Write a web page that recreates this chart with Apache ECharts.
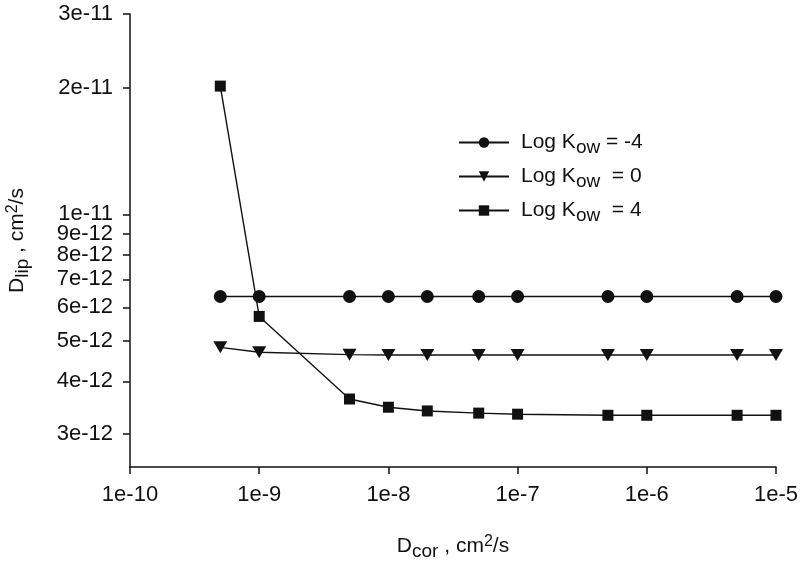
<!DOCTYPE html>
<html>
<head>
<meta charset="utf-8">
<script src="https://cdn.jsdelivr.net/npm/echarts@6/dist/echarts.min.js"></script>
<style>html,body{margin:0;padding:0;background:#fff}#c{width:800px;height:566px}</style>
</head>
<body>
<div id="c"></div>
<script>
// Data
var xValues = [5e-10, 1e-9, 5e-9, 1e-8, 2e-8, 5e-8, 1e-7, 5e-7, 1e-6, 5e-6, 1e-5];
var kowMinus4 = [6.37e-12, 6.37e-12, 6.37e-12, 6.37e-12, 6.37e-12, 6.37e-12, 6.37e-12, 6.37e-12, 6.37e-12, 6.37e-12, 6.37e-12];
var kow0 = [4.82e-12, 4.69e-12, 4.63e-12, 4.62e-12, 4.62e-12, 4.62e-12, 4.62e-12, 4.62e-12, 4.62e-12, 4.62e-12, 4.62e-12];
var kow4 = [2.02e-11, 5.71e-12, 3.63e-12, 3.47e-12, 3.40e-12, 3.36e-12, 3.34e-12, 3.32e-12, 3.32e-12, 3.32e-12, 3.32e-12];
var seriesNames = ['Log K_ow = -4', 'Log K_ow  = 0', 'Log K_ow  = 4'];
var xTicks = [1e-10, 1e-9, 1e-8, 1e-7, 1e-6, 1e-5];
var yTicks = [3e-12, 4e-12, 5e-12, 6e-12, 7e-12, 8e-12, 9e-12, 1e-11, 2e-11, 3e-11];

function pairs(ys) { return xValues.map(function (x, i) { return [x, ys[i]]; }); }
function fmtExp(v) { return Number(v).toExponential(0).replace('+', ''); }

var FONT = 'Liberation Sans, Arial, sans-serif';
var rich = {
  b: { fontSize: 21, fontFamily: FONT, color: '#111' },
  sub: { fontSize: 19, fontFamily: FONT, color: '#111', padding: [10, 0, 0, 0] },
  sup: { fontSize: 16, fontFamily: FONT, color: '#111', padding: [0, 0, 10, 0] }
};

var chart = echarts.init(document.getElementById('c'));
var lineStyle = { color: '#111', width: 1.4 };
function mk(name, data, symbol, size, rotate) {
  return {
    name: name, type: 'line', data: pairs(data), symbol: symbol, symbolSize: size,
    symbolRotate: rotate || 0, showAllSymbol: true,
    lineStyle: lineStyle, itemStyle: { color: '#111' }, animation: false
  };
}
chart.setOption({
  animation: false,
  grid: { left: 130, right: 24, top: 14, bottom: 99, containLabel: false, outerBoundsMode: 'none' },
  legend: {
    left: 453, top: 127, orient: 'vertical', itemWidth: 50, itemHeight: 13, itemGap: 9,
    data: seriesNames,
    formatter: function (n) {
      var parts = n.split('K_ow');
      return '{b|' + parts[0] + 'K}{sub|ow}{b|' + parts[1] + '}';
    },
    textStyle: { rich: rich, padding: [0, 0, 0, 7] }
  },
  xAxis: {
    type: 'log', logBase: 10, min: 1e-10, max: 1e-5,
    name: '{b|D}{sub|cor}{b| , cm}{sup|2}{b|/s}', nameLocation: 'middle', nameGap: 65,
    nameTextStyle: { rich: rich },
    axisLine: { show: true, lineStyle: { color: '#111', width: 1.5 } },
    axisTick: { show: true, length: 7, lineStyle: { color: '#111', width: 1.5 } },
    minorTick: { show: false },
    axisLabel: { fontSize: 22, fontFamily: FONT, color: '#111', margin: 17, formatter: fmtExp },
    splitLine: { show: false }
  },
  yAxis: {
    type: 'log', logBase: 10, min: 2.5e-12, max: 3e-11,
    name: '{b|D}{sub|lip}{b| , cm}{sup|2}{b|/s}', nameLocation: 'middle', nameGap: 98, nameRotate: 90,
    nameTextStyle: { rich: rich },
    axisLine: { show: true, lineStyle: { color: '#111', width: 1.5 } },
    axisTick: { show: true, length: 7, customValues: yTicks, lineStyle: { color: '#111', width: 1.5 } },
    axisLabel: { fontSize: 22, fontFamily: FONT, color: '#111', margin: 17, customValues: yTicks, formatter: fmtExp },
    splitLine: { show: false }
  },
  series: [
    mk(seriesNames[0], kowMinus4, 'circle', 13, 0),
    mk(seriesNames[1], kow0, 'triangle', [14, 12], 180),
    mk(seriesNames[2], kow4, 'rect', 11, 0)
  ]
});
</script>
</body>
</html>
